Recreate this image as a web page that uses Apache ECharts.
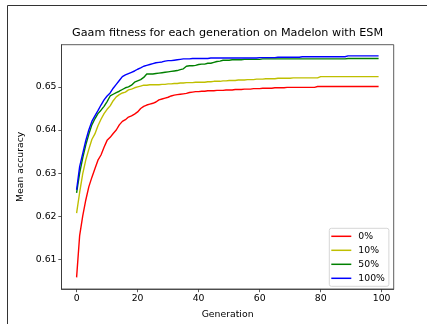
<!DOCTYPE html>
<html>
<head>
<meta charset="utf-8">
<script src="https://cdn.jsdelivr.net/npm/echarts@6/dist/echarts.min.js"></script>
<style>
  html, body { margin: 0; padding: 0; background: #fff; }
  #main { width: 427px; height: 324px; }
</style>
</head>
<body>
<div id="main"></div>
<script>
// data (generation 0..99)
var seriesNames = ["0%", "10%", "50%", "100%"];
var xTicks = [0, 20, 40, 60, 80, 100];
var yTicks = [0.61, 0.62, 0.63, 0.64, 0.65];

var red = [
  0.6058, 0.6155, 0.6200, 0.6237, 0.6268, 0.6290, 0.6310, 0.6330, 0.6342, 0.6360,
  0.6376, 0.6383, 0.6392, 0.6400, 0.6412, 0.6420, 0.6424, 0.6430, 0.6433, 0.6437,
  0.6442, 0.6450, 0.6455, 0.6458, 0.6460, 0.6462, 0.6465, 0.6470, 0.6472, 0.6474,
  0.6476, 0.6479, 0.6481, 0.6482, 0.6483, 0.6484, 0.6485, 0.6487, 0.6488, 0.6489,
  0.6489, 0.6490, 0.6490, 0.6491, 0.6491, 0.6491, 0.6492, 0.6492, 0.6492, 0.6493,
  0.6493, 0.6493, 0.6494, 0.6494, 0.6494, 0.6495, 0.6495, 0.6495, 0.6496, 0.6496,
  0.6496, 0.6497, 0.6497, 0.6497, 0.6497, 0.6498, 0.6498, 0.6498, 0.6498, 0.6499,
  0.6499, 0.6499, 0.6499, 0.6499, 0.6499, 0.6499, 0.6499, 0.6499, 0.6499, 0.6501,
  0.6501, 0.6501, 0.6501, 0.6501, 0.6501, 0.6501, 0.6501, 0.6501, 0.6501, 0.6501,
  0.6501, 0.6501, 0.6501, 0.6501, 0.6501, 0.6501, 0.6501, 0.6501, 0.6501, 0.6501
];
var yellow = [
  0.6207, 0.6255, 0.6298, 0.6330, 0.6355, 0.6378, 0.6391, 0.6410, 0.6425, 0.6438,
  0.6448, 0.6456, 0.6468, 0.6477, 0.6482, 0.6486, 0.6488, 0.6493, 0.6495, 0.6498,
  0.6500, 0.6502, 0.6504, 0.6504, 0.6505, 0.6505, 0.6505, 0.6505, 0.6506, 0.6506,
  0.6507, 0.6507, 0.6508, 0.6508, 0.6509, 0.6509, 0.6510, 0.6510, 0.6510, 0.6511,
  0.6511, 0.6511, 0.6511, 0.6512, 0.6512, 0.6513, 0.6513, 0.6513, 0.6514, 0.6514,
  0.6515, 0.6515, 0.6515, 0.6516, 0.6516, 0.6516, 0.6517, 0.6517, 0.6517, 0.6518,
  0.6518, 0.6518, 0.6519, 0.6519, 0.6519, 0.6519, 0.6520, 0.6520, 0.6520, 0.6520,
  0.6520, 0.6521, 0.6521, 0.6521, 0.6521, 0.6521, 0.6521, 0.6521, 0.6521, 0.6521,
  0.6524, 0.6524, 0.6524, 0.6524, 0.6524, 0.6524, 0.6524, 0.6524, 0.6524, 0.6524,
  0.6524, 0.6524, 0.6524, 0.6524, 0.6524, 0.6524, 0.6524, 0.6524, 0.6524, 0.6524
];
var green = [
  0.6254, 0.6300, 0.6335, 0.6365, 0.6390, 0.6412, 0.6426, 0.6438, 0.6446, 0.6455,
  0.6466, 0.6479, 0.6483, 0.6487, 0.6490, 0.6494, 0.6498, 0.6500, 0.6504, 0.6511,
  0.6514, 0.6517, 0.6522, 0.6530, 0.6530, 0.6530, 0.6531, 0.6532, 0.6533, 0.6534,
  0.6535, 0.6536, 0.6537, 0.6538, 0.6540, 0.6542, 0.6548, 0.6549, 0.6549, 0.6550,
  0.6552, 0.6553, 0.6553, 0.6555, 0.6555, 0.6557, 0.6559, 0.6560, 0.6562, 0.6562,
  0.6562, 0.6563, 0.6563, 0.6563, 0.6563, 0.6564, 0.6564, 0.6564, 0.6564, 0.6564,
  0.6564, 0.6565, 0.6565, 0.6565, 0.6565, 0.6565, 0.6565, 0.6565, 0.6565, 0.6565,
  0.6565, 0.6565, 0.6565, 0.6565, 0.6565, 0.6565, 0.6565, 0.6565, 0.6565, 0.6565,
  0.6565, 0.6565, 0.6565, 0.6565, 0.6565, 0.6565, 0.6565, 0.6565, 0.6565, 0.6566,
  0.6566, 0.6566, 0.6566, 0.6566, 0.6566, 0.6566, 0.6566, 0.6566, 0.6566, 0.6566
];
var blue = [
  0.6261, 0.6315, 0.6345, 0.6375, 0.6400, 0.6420, 0.6433, 0.6445, 0.6458, 0.6470,
  0.6479, 0.6486, 0.6497, 0.6506, 0.6515, 0.6524, 0.6528, 0.6531, 0.6534, 0.6537,
  0.6541, 0.6544, 0.6548, 0.6550, 0.6552, 0.6554, 0.6556, 0.6557, 0.6558, 0.6560,
  0.6561, 0.6561, 0.6562, 0.6563, 0.6564, 0.6565, 0.6565, 0.6565, 0.6566, 0.6566,
  0.6566, 0.6566, 0.6566, 0.6566, 0.6567, 0.6567, 0.6567, 0.6567, 0.6567, 0.6567,
  0.6567, 0.6567, 0.6567, 0.6567, 0.6567, 0.6567, 0.6567, 0.6567, 0.6567, 0.6567,
  0.6568, 0.6568, 0.6568, 0.6568, 0.6568, 0.6568, 0.6569, 0.6569, 0.6569, 0.6569,
  0.6569, 0.6569, 0.6569, 0.6569, 0.6570, 0.6570, 0.6570, 0.6570, 0.6570, 0.6570,
  0.6570, 0.6570, 0.6570, 0.6570, 0.6570, 0.6570, 0.6570, 0.6570, 0.6570, 0.6572,
  0.6572, 0.6572, 0.6572, 0.6572, 0.6572, 0.6572, 0.6572, 0.6572, 0.6572, 0.6572
];
var colors = ["#ff0000", "#bfbf00", "#008000", "#0000ff"];
var allData = [red, yellow, green, blue];

var font = "DejaVu Sans";

function toPairs(arr) {
  return arr.map(function (v, i) { return [i, v]; });
}

var series = seriesNames.map(function (name, k) {
  return {
    name: name,
    type: "line",
    data: toPairs(allData[k]),
    showSymbol: false,
    symbol: "none",
    lineStyle: { color: colors[k], width: 1.4 },
    itemStyle: { color: colors[k] },
    animation: false
  };
});

var chart = echarts.init(document.getElementById("main"));
var option = {
  backgroundColor: "#fff",
  animation: false,
  title: {
    text: "Gaam fitness for each generation on Madelon with ESM",
    left: 227.6,
    textAlign: "center",
    top: 28,
    padding: 0,
    textStyle: { fontFamily: font, fontSize: 11.2, fontWeight: "normal", color: "#000" }
  },
  grid: {
    left: 61.5, right: 33.3, top: 44.7, bottom: 33.3,
    show: true, borderColor: "#333", borderWidth: 0.8, backgroundColor: "transparent"
  },
  legend: {
    data: seriesNames,
    orient: "vertical",
    left: 329.3,
    top: 228.3,
    padding: [2, 4, 2, 2],
    itemGap: 2,
    itemWidth: 20,
    itemHeight: 1.5,
    icon: "rect",
    backgroundColor: "#fff",
    borderColor: "#d6d6d6",
    borderWidth: 1,
    borderRadius: 2,
    textStyle: { fontFamily: font, fontSize: 9.3, color: "#000", lineHeight: 12, padding: [0, 0, 0, 2] }
  },
  xAxis: {
    type: "value",
    min: -4.95,
    max: 103.95,
    name: "Generation",
    nameLocation: "middle",
    nameGap: 21,
    nameTextStyle: { fontFamily: font, fontSize: 9.3, color: "#000" },
    axisLine: { show: true, onZero: false, lineStyle: { color: "#333", width: 0.8 } },
    axisTick: { show: true, length: 3.2, customValues: xTicks, lineStyle: { color: "#333", width: 0.8 } },
    axisLabel: { customValues: xTicks, margin: 5, fontFamily: font, fontSize: 9.3, color: "#000" },
    splitLine: { show: false }
  },
  yAxis: {
    type: "value",
    min: 0.6031,
    max: 0.6598,
    name: "Mean accuracy",
    nameLocation: "middle",
    nameRotate: 90,
    nameGap: 28,
    nameTextStyle: { fontFamily: font, fontSize: 9.3, color: "#000" },
    axisLine: { show: true, onZero: false, lineStyle: { color: "#333", width: 0.8 } },
    axisTick: { show: true, length: 3.2, customValues: yTicks, lineStyle: { color: "#333", width: 0.8 } },
    axisLabel: {
      customValues: yTicks, margin: 5, fontFamily: font, fontSize: 9.3, color: "#000",
      formatter: function (v) { return v.toFixed(2); }
    },
    splitLine: { show: false }
  },
  graphic: [
    { type: "line", shape: { x1: 7.5, y1: 5.5, x2: 427, y2: 5.5 }, style: { stroke: "#333", lineWidth: 1 } },
    { type: "line", shape: { x1: 7.5, y1: 5.5, x2: 7.5, y2: 324 }, style: { stroke: "#333", lineWidth: 1 } }
  ],
  series: series
};
chart.setOption(option);
</script>
</body>
</html>
